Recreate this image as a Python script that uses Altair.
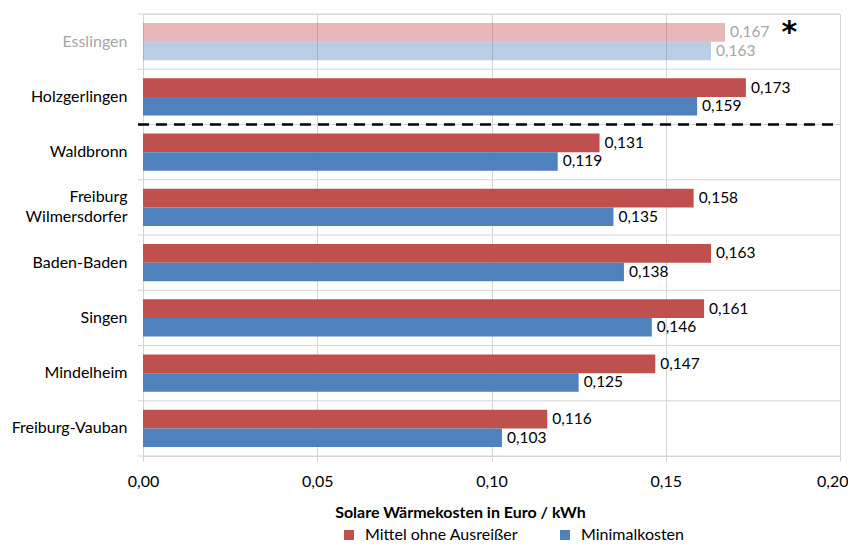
import altair as alt
import pandas as pd

# ---- data ----
orte = ["Esslingen", "Holzgerlingen", "Waldbronn", "Freiburg Wilmersdorfer",
        "Baden-Baden", "Singen", "Mindelheim", "Freiburg-Vauban"]
mittel = [0.167, 0.173, 0.131, 0.158, 0.163, 0.161, 0.147, 0.116]
minimal = [0.163, 0.159, 0.119, 0.135, 0.138, 0.146, 0.125, 0.103]
series = ["Mittel ohne Ausreißer", "Minimalkosten"]
colors = ["#C0504D", "#4F81BD"]
x_ticks = [0.0, 0.05, 0.10, 0.15, 0.20]
faded_ort = "Esslingen"
dashed_before = "Waldbronn"
note_text = ["*"]
note_x = [0.1855]
note_ort = ["Esslingen"]

rows = []
for o, a, b in zip(orte, mittel, minimal):
    rows.append({"Ort": o, "Serie": series[0], "Wert": a})
    rows.append({"Ort": o, "Serie": series[1], "Wert": b})
df = pd.DataFrame(rows)
sep_df = pd.DataFrame({"Ort": orte})
last_df = pd.DataFrame({"Ort": [orte[-1]]})
dash_df = pd.DataFrame({"Ort": [dashed_before]})
note_df = pd.DataFrame({"Ort": note_ort, "Wert": note_x, "txt": note_text})

W, H = 697, 442
FONT = "Lato"
GRID = "#D4D4D4"

yscale = alt.Scale(domain=orte, paddingInner=0, paddingOuter=0)
is_faded = f"datum.Ort == '{faded_ort}'"

y_axis = alt.Axis(
    title=None, ticks=False, domain=False, grid=False,
    labelFont=FONT, labelFontSize=16, labelPadding=16, labelLineHeight=20,
    labelColor={"condition": {"test": f"datum.label == '{faded_ort}'", "value": "#A6A6A6"},
                "value": "#000000"},
    labelOffset={"condition": {"test": "datum.label == 'Freiburg Wilmersdorfer'", "value": -10},
                 "value": 0},
    labelExpr="datum.label == 'Freiburg Wilmersdorfer' ? ['Freiburg', 'Wilmersdorfer'] : datum.label",
)
y_main = alt.Y("Ort:N", scale=yscale, sort=orte, axis=y_axis)
y_plain = alt.Y("Ort:N", scale=yscale, sort=orte, title=None)

last_tick = f"datum.value >= {x_ticks[-1]}"
x_enc = alt.X(
    "Wert:Q",
    scale=alt.Scale(domain=[x_ticks[0], x_ticks[-1]], nice=False, zero=True),
    axis=alt.Axis(
        values=x_ticks,
        labelExpr="replace(format(datum.value, '.2f'), '.', ',')",
        labelFlush=False,
        labelAlign={"condition": {"test": last_tick, "value": "right"}, "value": "center"},
        labelOffset={"condition": {"test": last_tick, "value": 8}, "value": 0},
        grid=True, gridColor=GRID, domainColor=GRID, tickColor=GRID, tickSize=5,
        labelFont=FONT, labelFontSize=16, labelPadding=12, labelColor="#000000",
        title="Solare Wärmekosten  in Euro / kWh",
        titleFont=FONT, titleFontSize=16, titleFontWeight="bold", titleColor="#000000",
        titlePadding=15, titleX=317,
    ),
)
yoff = alt.YOffset("Serie:N", sort=series,
                   scale=alt.Scale(domain=series, paddingInner=0, paddingOuter=0.49))

bars = alt.Chart(df).mark_bar().encode(
    y=y_main,
    x=x_enc,
    yOffset=yoff,
    color=alt.Color(
        "Serie:N",
        scale=alt.Scale(domain=series, range=colors),
        legend=alt.Legend(
            title=None, orient="none", legendX=198, legendY=513, direction="horizontal",
            symbolType="square", symbolSize=100, symbolStrokeWidth=0,
            labelFont=FONT, labelFontSize=16, labelColor="#000000", columnPadding=38,
            labelOffset=8, padding=0,
        ),
    ),
    opacity=alt.condition(is_faded, alt.value(0.4), alt.value(1.0)),
)

labels = alt.Chart(df).transform_calculate(
    lab="replace(format(datum.Wert, '.3f'), '.', ',')"
).mark_text(align="left", baseline="middle", dx=5, font=FONT, fontSize=15.5).encode(
    y=y_plain,
    x=alt.X("Wert:Q"),
    yOffset=yoff,
    text="lab:N",
    color=alt.condition(is_faded, alt.value("#A6A6A6"), alt.value("#000000")),
)

seps = alt.Chart(sep_df).mark_rule(color=GRID, strokeWidth=1).encode(
    y=alt.Y("Ort:N", scale=yscale, sort=orte, title=None, bandPosition=0),
    x=alt.value(-5), x2=alt.value(W),
)
last_sep = alt.Chart(last_df).mark_rule(color=GRID, strokeWidth=1).encode(
    y=alt.Y("Ort:N", scale=yscale, sort=orte, title=None, bandPosition=1),
    x=alt.value(-5), x2=alt.value(W),
)
dash = alt.Chart(dash_df).mark_rule(color="#000000", strokeWidth=2.5, strokeDash=[11, 7]).encode(
    y=alt.Y("Ort:N", scale=yscale, sort=orte, title=None, bandPosition=0),
    x=alt.value(-5), x2=alt.value(W),
)
note = alt.Chart(note_df).mark_text(
    font="DejaVu Sans", fontSize=30, fontWeight="bold", align="center", baseline="middle", dy=19
).encode(
    y=alt.Y("Ort:N", scale=yscale, sort=orte, title=None, bandPosition=0),
    x=alt.X("Wert:Q"),
    text="txt:N",
    color=alt.value("#000000"),
)

chart = alt.layer(seps, last_sep, bars, labels, dash, note).properties(
    width=W, height=H,
    autosize=alt.AutoSizeParams(type="none"),
    padding={"left": 135, "top": 6, "right": 8, "bottom": 90},
).configure_view(stroke=GRID, strokeWidth=1).configure(font=FONT)

chart.save("out.html", embed_options={"renderer": "svg", "actions": False})
